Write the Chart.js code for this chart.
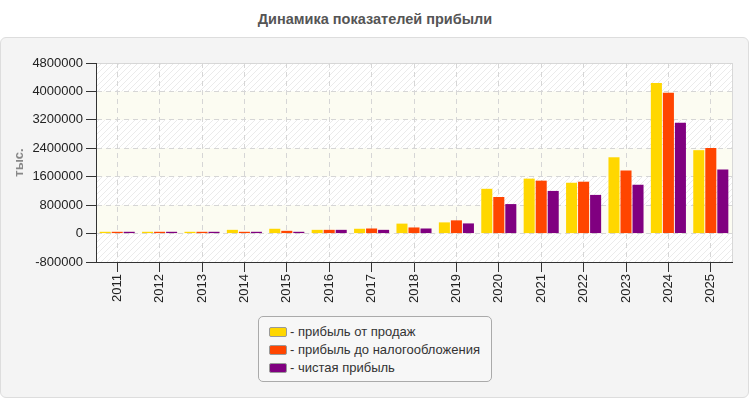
<!DOCTYPE html>
<html>
<head>
<meta charset="utf-8">
<script src="https://cdn.jsdelivr.net/npm/chart.js@4/dist/chart.umd.min.js"></script>
<style>
  body { margin: 0; width: 750px; height: 400px; background: #fff; font-family: Arial, "Liberation Sans", sans-serif; position: relative; overflow: hidden; }
  #title { position: absolute; top: 11px; left: 0; width: 750px; text-align: center; font-weight: bold; font-size: 14.5px; color: #555; }
  #box { position: absolute; top: 37px; left: 0; width: 747px; height: 359px; border: 1px solid #ddd; border-radius: 6px; background: #f4f4f4; }
  #chartWrap { position: absolute; top: 0; left: 0; width: 750px; height: 275px; }
  #legend { position: absolute; left: 257px; top: 278px; width: 232px; height: 64px; border: 1px solid #aaa; border-radius: 5px; background: #f7f7f7; font-size: 13px; color: #333; }
  .item { position: absolute; left: 10px; height: 18px; line-height: 18px; white-space: nowrap; }
  .sw { display: inline-block; width: 16px; height: 8px; border: 1px solid #999; border-radius: 2px; vertical-align: middle; margin-right: 3px; position: relative; top: -1px; }
</style>
</head>
<body>
<div id="title">Динамика показателей прибыли</div>
<div id="box">
  <div id="chartWrap"><canvas id="myChart" width="750" height="275"></canvas></div>
  <div id="legend"></div>
</div>
<script>
const years = ['2011', '2012', '2013', '2014', '2015', '2016', '2017', '2018', '2019', '2020', '2021', '2022', '2023', '2024', '2025'];
const salesProfit = [50000, 50000, 50000, 105000, 135000, 105000, 135000, 280000, 315000, 1260000, 1546000, 1430000, 2147000, 4237000, 2347000];
const pretaxProfit = [50000, 50000, 50000, 50000, 77000, 105000, 143000, 172000, 372000, 1030000, 1489000, 1460000, 1775000, 3960000, 2405000];
const netProfit = [50000, 50000, 50000, 50000, 50000, 105000, 105000, 143000, 286000, 830000, 1200000, 1088000, 1374000, 3120000, 1803000];
const seriesNames = ['прибыль от продаж', 'прибыль до налогообложения', 'чистая прибыль'];
const seriesColors = ['#ffd700', '#ff4500', '#800080'];
const yTicks = [-800000, 0, 800000, 1600000, 2400000, 3200000, 4000000, 4800000];

// hatch pattern for plot background
const pc = document.createElement('canvas');
pc.width = 6; pc.height = 6;
const pctx = pc.getContext('2d');
pctx.fillStyle = '#ffffff';
pctx.fillRect(0, 0, 6, 6);
pctx.strokeStyle = '#ebebeb';
pctx.lineWidth = 1;
pctx.beginPath();
pctx.moveTo(-1, 7); pctx.lineTo(7, -1);
pctx.stroke();

const plotBg = {
  id: 'plotBg',
  beforeDraw(chart) {
    const { ctx, chartArea: a, scales: { y } } = chart;
    ctx.save();
    ctx.fillStyle = ctx.createPattern(pc, 'repeat');
    ctx.fillRect(a.left, a.top, a.width, a.height);
    ctx.fillStyle = '#fcfcf2';
    for (let i = 1; i < yTicks.length - 1; i += 2) {
      const top = y.getPixelForValue(yTicks[i + 1]);
      const bot = y.getPixelForValue(yTicks[i]);
      ctx.fillRect(a.left, top, a.width, bot - top);
    }
    ctx.strokeStyle = '#d8d8d8';
    ctx.strokeRect(a.left + 0.5, a.top + 0.5, a.width, a.height);
    ctx.restore();
  }
};

const datasets = [salesProfit, pretaxProfit, netProfit].map((d, i) => ({
  label: seriesNames[i],
  data: d,
  backgroundColor: seriesColors[i],
  borderWidth: 0,
  categoryPercentage: 0.85,
  barPercentage: 0.92
}));

const ctx = document.getElementById('myChart');
new Chart(ctx, {
  type: 'bar',
  data: { labels: years, datasets: datasets },
  plugins: [plotBg],
  options: {
    responsive: false,
    animation: false,
    layout: { padding: { top: 25, left: 0, right: 19, bottom: 0 } },
    plugins: { legend: { display: false }, tooltip: { enabled: false } },
    scales: {
      x: {
        afterFit: s => { s.height = 51; },
        grid: { offset: false, color: '#d6d6d6', tickLength: 10, tickColor: '#333', tickBorderDash: [] },
        border: { color: '#333', width: 1, dash: [5, 4] },
        ticks: { color: '#222', font: { size: 13, family: 'Arial' }, minRotation: 90, maxRotation: 90, padding: 2 }
      },
      y: {
        min: -800000,
        max: 4800000,
        afterFit: s => { s.width = 95; },
        afterBuildTicks: s => { s.ticks = yTicks.map(v => ({ value: v })); },
        grid: { color: '#d6d6d6', tickLength: 10, tickColor: '#333', tickBorderDash: [] },
        border: { color: '#333', width: 1, dash: [5, 4] },
        ticks: { color: '#222', font: { size: 13, family: 'Arial' }, padding: 3, callback: v => String(v) },
        title: { display: true, text: 'тыс.', color: '#888', font: { size: 13, weight: 'bold', family: 'Arial' }, padding: { top: 11, bottom: 0 } }
      }
    }
  }
});

// legend
const leg = document.getElementById('legend');
seriesNames.forEach((n, i) => {
  const it = document.createElement('div');
  it.className = 'item';
  it.style.top = (6 + i * 18) + 'px';
  it.innerHTML = '<span class="sw" style="background:' + seriesColors[i] + '"></span>- ' + n;
  leg.appendChild(it);
});
</script>
</body>
</html>
